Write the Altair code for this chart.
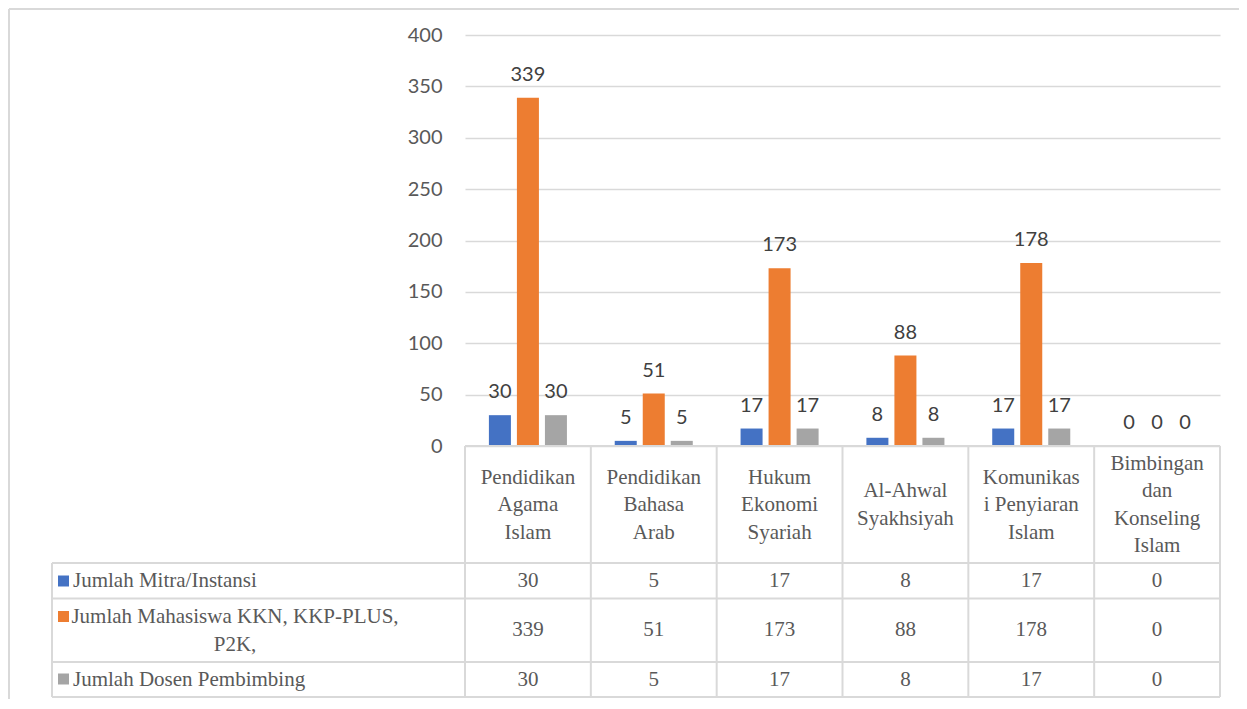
import altair as alt
import pandas as pd

categories = ["Pendidikan Agama Islam", "Pendidikan Bahasa Arab", "Hukum Ekonomi Syariah",
              "Al-Ahwal Syakhsiyah", "Komunikasi Penyiaran Islam", "Bimbingan dan Konseling Islam"]
header_lines = [["Pendidikan", "Agama", "Islam"], ["Pendidikan", "Bahasa", "Arab"],
                ["Hukum", "Ekonomi", "Syariah"], ["Al-Ahwal", "Syakhsiyah"],
                ["Komunikas", "i Penyiaran", "Islam"], ["Bimbingan", "dan", "Konseling", "Islam"]]
series = ["Jumlah Mitra/Instansi", "Jumlah Mahasiswa KKN, KKP-PLUS, P2K,", "Jumlah Dosen Pembimbing"]
series_lines = [["Jumlah Mitra/Instansi"], ["Jumlah Mahasiswa KKN, KKP-PLUS,", "P2K,"],
                ["Jumlah Dosen Pembimbing"]]
mitra = [30, 5, 17, 8, 17, 0]
mahasiswa = [339, 51, 173, 88, 178, 0]
dosen = [30, 5, 17, 8, 17, 0]
colors = ["#4472C4", "#ED7D31", "#A5A5A5"]
y_ticks = [0, 50, 100, 150, 200, 250, 300, 350, 400]

values = [mitra, mahasiswa, dosen]
rows = []
for s, vals in zip(series, values):
    for c, v in zip(categories, vals):
        rows.append({"category": c, "series": s, "value": v})
df = pd.DataFrame(rows)
hdr = pd.DataFrame({"category": categories,
                    "label": ["\n".join(l) for l in header_lines],
                    "n": [len(l) for l in header_lines]})

W, H = 755, 411
GRID = "#d9d9d9"
TXT = "#595959"
LH = 27.5

x_enc = alt.X("category:N", sort=categories,
              scale=alt.Scale(domain=categories, paddingInner=0, paddingOuter=0), axis=None)
xoff = alt.XOffset("series:N", sort=series,
                   scale=alt.Scale(domain=series, paddingInner=0.2143, paddingOuter=0.853))
y_enc = alt.Y("value:Q", scale=alt.Scale(domain=[0, 400], nice=False),
              axis=alt.Axis(values=y_ticks, grid=True, gridColor=GRID, gridWidth=1.5,
                            domain=False, ticks=False, tickSize=0, labelPadding=23,
                            labelFont="Lato", labelFontSize=20, labelColor=TXT, title=None))
color = alt.Color("series:N", scale=alt.Scale(domain=series, range=colors), legend=None)

bars = alt.Chart(df).mark_bar().encode(x=x_enc, xOffset=xoff, y=y_enc, color=color)
labels = alt.Chart(df).mark_text(dy=-17, baseline="alphabetic", font="Lato", fontSize=20,
                                 color="#404040").encode(x=x_enc, xOffset=xoff, y=y_enc,
                                                         text="value:Q")

one = alt.Data(values=[{"a": 1}])


def line(x1, x2, y1, y2, w=2):
    return alt.Chart(one).mark_rule(color=GRID, strokeWidth=w).encode(
        x=alt.value(x1), x2=alt.value(x2), y=alt.value(y1), y2=alt.value(y2))


layers = [bars, labels]

# header texts (vertically centred in the header row)
for n in sorted(hdr["n"].unique()):
    first_y = 470 - (n - 1) / 2 * LH
    layers.append(alt.Chart(hdr[hdr.n == n]).mark_text(
        font="Liberation Serif", fontSize=21, lineHeight=LH, baseline="middle",
        lineBreak="\n", color=TXT).encode(x=x_enc, y=alt.value(first_y), text="label:N"))

# table vertical lines at band starts
layers.append(alt.Chart(hdr).mark_rule(color=GRID, strokeWidth=2).encode(
    x=alt.X("category:N", sort=categories, bandPosition=0,
            scale=alt.Scale(domain=categories, paddingInner=0, paddingOuter=0), axis=None),
    y=alt.value(H), y2=alt.value(662)))
layers.append(line(W, W, H, 662))
layers.append(line(-413, -413, 528, 662))
# horizontal table lines
layers.append(line(0, W, H, H))
for yy in [528, 563.5, 627, 662]:
    layers.append(line(-413, W, yy, yy))
# outer frame
layers.append(line(-456, 774, -26, -26))
layers.append(line(-456, -456, -26, 664))

# table values
row_y = [545.5, 595, 644.5]
for s, ry in zip(series, row_y):
    layers.append(alt.Chart(df[df.series == s]).mark_text(
        font="Liberation Serif", fontSize=21, baseline="middle", color=TXT).encode(
        x=x_enc, y=alt.value(ry), text="value:Q"))

# row headers with markers
marker_y = [546, 581.5, 644]
text_y = [546, 582, 644.5]
for i, (s, lines_, c) in enumerate(zip(series, series_lines, colors)):
    layers.append(alt.Chart(one).mark_square(size=121, opacity=1, filled=True, color=c).encode(
        x=alt.value(-401.5), y=alt.value(marker_y[i])))
    lab = pd.DataFrame({"t": ["\n".join(lines_)]})
    if len(lines_) > 1:
        mk = alt.Chart(lab).mark_text(font="Liberation Serif", fontSize=21, lineHeight=28,
                                      lineBreak="\n", baseline="middle", align="center",
                                      color=TXT).encode(x=alt.value(-230), y=alt.value(text_y[i]),
                                                        text="t:N")
    else:
        mk = alt.Chart(lab).mark_text(font="Liberation Serif", fontSize=21, baseline="middle",
                                      align="left", color=TXT).encode(
            x=alt.value(-392), y=alt.value(text_y[i]), text="t:N")
    layers.append(mk)

chart = alt.layer(*layers).properties(
    width=W, height=H,
    padding={"left": 457, "top": 27, "right": 19, "bottom": 253},
    autosize=alt.AutoSizeParams(type="none"),
).configure_view(stroke=None)

chart.save("out.html", embed_options={"renderer": "svg", "actions": False})
